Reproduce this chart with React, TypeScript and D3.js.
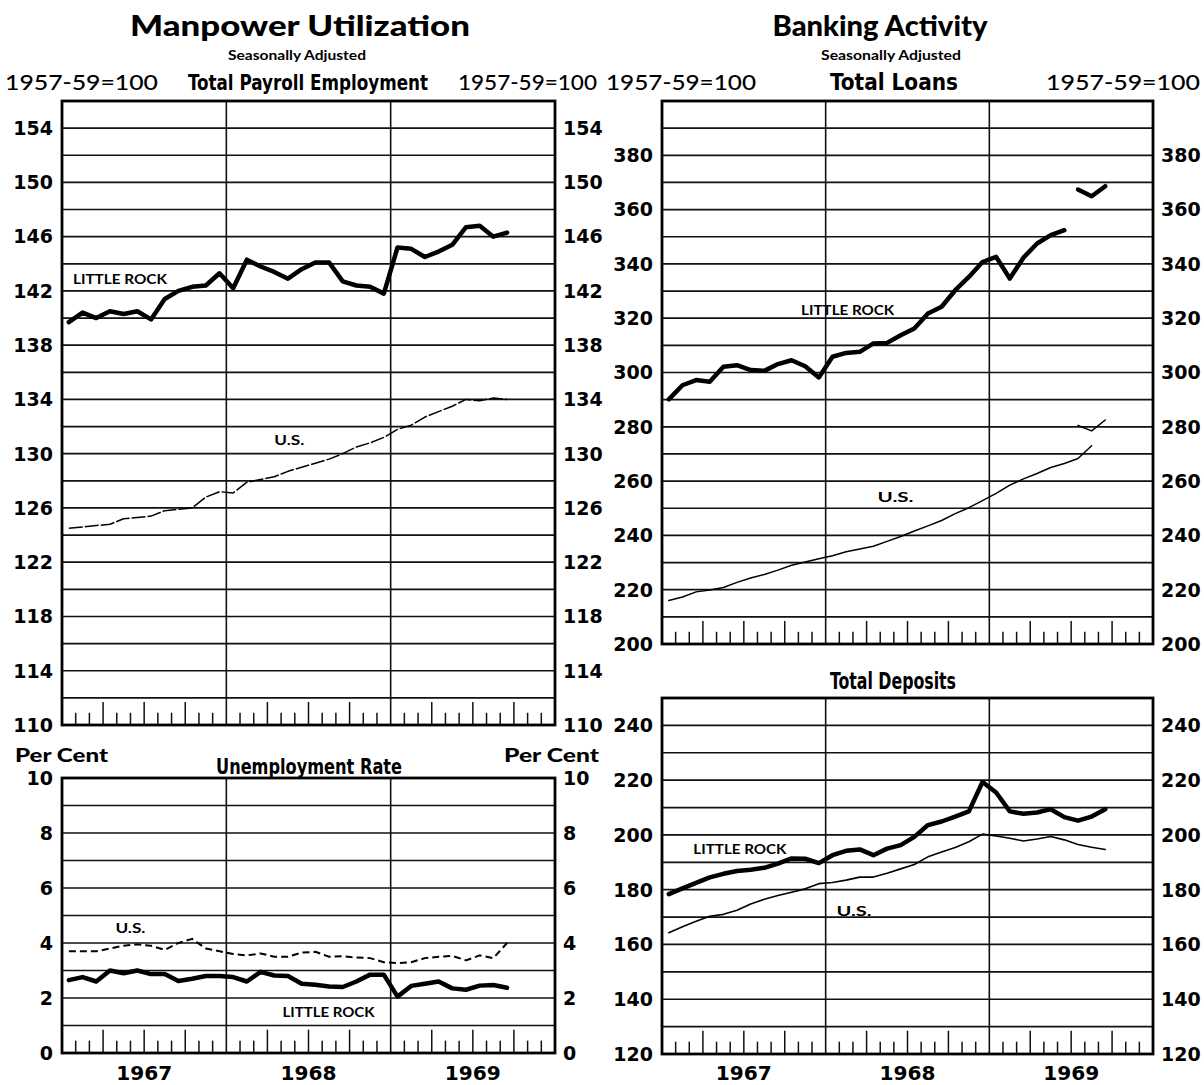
import React from "react";
import * as d3 from "d3";

const yearLabels = ["1967", "1968", "1969"];
const monthsShown = 36;

const payrollLittleRock = [139.7, 140.4, 140.0, 140.5, 140.3, 140.5, 139.9, 141.4, 142.0, 142.3, 142.4, 143.3, 142.2, 144.3, 143.8, 143.4, 142.9, 143.6, 144.1, 144.1, 142.7, 142.4, 142.3, 141.8, 145.2, 145.1, 144.5, 144.9, 145.4, 146.7, 146.8, 146.0, 146.3];
const payrollUS = [124.5, 124.6, 124.7, 124.8, 125.2, 125.3, 125.4, 125.8, 125.9, 126.0, 126.8, 127.2, 127.1, 127.9, 128.1, 128.3, 128.7, 129.0, 129.3, 129.6, 130.0, 130.5, 130.8, 131.2, 131.8, 132.1, 132.7, 133.1, 133.5, 134.0, 133.9, 134.1, 134.0];
const payrollTicks = [110, 114, 118, 122, 126, 130, 134, 138, 142, 146, 150, 154];

const unemploymentLittleRock = [2.65, 2.76, 2.6, 3.0, 2.9, 3.0, 2.87, 2.87, 2.62, 2.7, 2.8, 2.8, 2.76, 2.6, 2.95, 2.82, 2.8, 2.52, 2.48, 2.42, 2.4, 2.6, 2.85, 2.85, 2.05, 2.44, 2.52, 2.6, 2.35, 2.3, 2.45, 2.47, 2.37];
const unemploymentUS = [3.7, 3.7, 3.7, 3.8, 3.9, 3.95, 3.9, 3.75, 4.0, 4.15, 3.8, 3.7, 3.6, 3.55, 3.62, 3.5, 3.5, 3.65, 3.68, 3.5, 3.52, 3.47, 3.45, 3.3, 3.27, 3.3, 3.45, 3.5, 3.53, 3.37, 3.55, 3.45, 4.0];
const unemploymentTicks = [0, 2, 4, 6, 8, 10];

const loansLittleRock = [290.1, 295.3, 297.2, 296.6, 302.1, 302.7, 300.9, 300.6, 303.1, 304.5, 302.3, 298.2, 305.8, 307.2, 307.6, 310.7, 310.9, 313.7, 316.2, 321.7, 324.2, 330.3, 335.2, 340.7, 342.6, 334.6, 342.3, 347.5, 350.6, 352.4];
const loansLittleRockRevised = [367.4, 364.9, 368.6];
const loansUS = [216.0, 217.3, 219.2, 219.9, 220.8, 222.7, 224.3, 225.6, 227.2, 229.0, 230.2, 231.4, 232.5, 234.0, 235.0, 236.0, 237.8, 239.6, 241.6, 243.5, 245.5, 248.0, 250.2, 252.8, 255.5, 258.5, 260.8, 262.8, 265.0, 266.5, 268.3, 273.0];
const loansUSRevised = [280.5, 278.5, 282.5];
const loansTicks = [200, 220, 240, 260, 280, 300, 320, 340, 360, 380];

const depositsLittleRock = [178.4, 180.5, 182.5, 184.5, 185.8, 186.8, 187.3, 188, 189.5, 191.4, 191.3, 189.7, 192.6, 194.2, 194.7, 192.6, 195, 196.3, 199.3, 203.6, 204.9, 206.7, 208.6, 219.3, 215.5, 208.6, 207.7, 208.2, 209.4, 206.5, 205.2, 206.7, 209.4];
const depositsUS = [164.3, 166.5, 168.5, 170.3, 171, 172.5, 174.8, 176.5, 177.9, 179.1, 180.3, 182.2, 182.6, 183.5, 184.6, 184.6, 186, 187.6, 189.2, 192, 193.8, 195.4, 197.5, 200.3, 199.6, 198.8, 197.8, 198.5, 199.4, 198.2, 196.5, 195.5, 194.7];
const depositsTicks = [120, 140, 160, 180, 200, 220, 240];

const HEAD = "Lato, 'Open Sans', 'DejaVu Sans', sans-serif";
const NUM = "'DejaVu Sans', Lato, sans-serif";
const COND = "'Liberation Sans Narrow', 'DejaVu Sans Condensed', 'DejaVu Sans', sans-serif";

type Series = { values: number[]; start: number; width: number; dash?: string };
type Note = { text: string; month: number; value: number; width: number };

function Panel(props: {
  x0: number; x1: number; y0: number; y1: number;
  min: number; max: number; step: number; labels: number[];
  series: Series[]; notes: Note[]; years?: boolean;
}) {
  const { x0, x1, y0, y1, min, max, step, labels, series, notes, years } = props;
  const x = d3.scaleLinear().domain([0, monthsShown]).range([x0, x1]);
  const y = d3.scaleLinear().domain([min, max]).range([y1, y0]);
  const grid = d3.range(min + step, max - step / 2, step);
  const monthMarks = d3.range(1, monthsShown).filter((m) => m % 12 !== 0);
  const bandH = y(min) - y(min + step);
  return (
    <g>
      {grid.map((v) => (
        <line key={"g" + v} x1={x0} x2={x1} y1={y(v)} y2={y(v)} stroke="#111" strokeWidth={1.7} />
      ))}
      {monthMarks.map((m) => (
        <line key={"t" + m} x1={x(m)} x2={x(m)} y1={y(min)} y2={y(min) - (m % 3 === 0 ? 0.85 : 0.45) * bandH} stroke="#111" strokeWidth={1.5} />
      ))}
      {[12, 24].map((m) => (
        <line key={"y" + m} x1={x(m)} x2={x(m)} y1={y0} y2={y1} stroke="#111" strokeWidth={1.6} />
      ))}
      <rect x={x0} y={y0} width={x1 - x0} height={y1 - y0} fill="none" stroke="#000" strokeWidth={2.8} />
      {labels.map((v) => (
        <g key={"l" + v} fontFamily={NUM} fontWeight={700} fontSize={19} fill="#000">
          <text x={x0 - 9} y={y(v)} dy="0.36em" textAnchor="end">{v}</text>
          <text x={x1 + 8} y={y(v)} dy="0.36em" textAnchor="start">{v}</text>
        </g>
      ))}
      {series.map((s, k) => {
        const line = d3.line<number>().x((_, i) => x(s.start + i + 0.5)).y((d) => y(d));
        return (
          <path key={"s" + k} d={line(s.values) || ""} fill="none" stroke="#000" strokeWidth={s.width}
            strokeDasharray={s.dash} strokeLinejoin="round" strokeLinecap={s.dash ? "butt" : "round"} />
        );
      })}
      {notes.map((n, k) => (
        <text key={"n" + k} x={x(n.month)} y={y(n.value)} dy="0.36em" fontFamily={HEAD} fontWeight={700}
          fontSize={14} textLength={n.width} lengthAdjust="spacingAndGlyphs">{n.text}</text>
      ))}
      {years && yearLabels.map((t, i) => (
        <text key={t} x={x(i * 12 + 6)} y={1080} textAnchor="middle" fontFamily={NUM} fontWeight={700} fontSize={20}
          textLength={56} lengthAdjust="spacingAndGlyphs">{t}</text>
      ))}
    </g>
  );
}

function T(p: { x: number; y: number; w: number; size: number; family: string; weight?: number; anchor?: string; children: string }) {
  return (
    <text x={p.x} y={p.y} fontSize={p.size} fontFamily={p.family} fontWeight={p.weight ?? 700}
      textAnchor={p.anchor ?? "middle"} textLength={p.w} lengthAdjust="spacingAndGlyphs">{p.children}</text>
  );
}

export default function App() {
  const L = { x0: 62, x1: 555 };
  const R = { x0: 662, x1: 1153 };
  return (
    <svg width={1204} height={1085} style={{ position: "absolute", left: 0, top: 0, background: "#fff" }}>
      <rect width={1204} height={1085} fill="#fff" />
      <T x={300} y={36} w={340} size={28} family={HEAD} weight={900}>Manpower Utilization</T>
      <T x={297} y={60} w={138} size={13} family={HEAD}>Seasonally Adjusted</T>
      <T x={5} y={90} w={153} size={21} family={HEAD} weight={500} anchor="start">1957-59=100</T>
      <T x={308} y={90} w={240} size={21} family={COND}>Total Payroll Employment</T>
      <T x={458} y={90} w={139} size={21} family={HEAD} weight={500} anchor="start">1957-59=100</T>
      <T x={15} y={762} w={93} size={19} family={HEAD} weight={900} anchor="start">Per Cent</T>
      <T x={309} y={774} w={186} size={22} family={COND}>Unemployment Rate</T>
      <T x={504} y={762} w={95} size={19} family={HEAD} weight={900} anchor="start">Per Cent</T>

      <T x={880} y={36} w={215} size={28} family={HEAD} weight={900}>Banking Activity</T>
      <T x={891} y={60} w={140} size={13} family={HEAD}>Seasonally Adjusted</T>
      <T x={606} y={90} w={150} size={21} family={HEAD} weight={500} anchor="start">1957-59=100</T>
      <T x={894} y={90} w={128} size={23} family={COND}>Total Loans</T>
      <T x={1046} y={90} w={154} size={21} family={HEAD} weight={500} anchor="start">1957-59=100</T>
      <T x={893} y={689} w={126} size={23} family={COND}>Total Deposits</T>

      <Panel {...L} y0={101} y1={725} min={110} max={156} step={2} labels={payrollTicks}
        series={[
          { values: payrollUS, start: 0, width: 1.5, dash: "14,2" },
          { values: payrollLittleRock, start: 0, width: 4.5 },
        ]}
        notes={[
          { text: "LITTLE ROCK", month: 0.8, value: 142.9, width: 94 },
          { text: "U.S.", month: 15.5, value: 131.0, width: 30 },
        ]} />
      <Panel {...L} y0={778} y1={1053} min={0} max={10} step={1} labels={unemploymentTicks} years
        series={[
          { values: unemploymentUS, start: 0, width: 2, dash: "7,4" },
          { values: unemploymentLittleRock, start: 0, width: 4.5 },
        ]}
        notes={[
          { text: "U.S.", month: 3.9, value: 4.55, width: 30 },
          { text: "LITTLE ROCK", month: 16.1, value: 1.49, width: 92 },
        ]} />
      <Panel {...R} y0={101} y1={644} min={200} max={400} step={10} labels={loansTicks}
        series={[
          { values: loansUS, start: 0, width: 1.5 },
          { values: loansUSRevised, start: 30, width: 1.5 },
          { values: loansLittleRock, start: 0, width: 4.5 },
          { values: loansLittleRockRevised, start: 30, width: 4.5 },
        ]}
        notes={[
          { text: "LITTLE ROCK", month: 10.2, value: 323, width: 93 },
          { text: "U.S.", month: 15.8, value: 254, width: 36 },
        ]} />
      <Panel {...R} y0={698} y1={1054} min={120} max={250} step={10} labels={depositsTicks} years
        series={[
          { values: depositsUS, start: 0, width: 1.6 },
          { values: depositsLittleRock, start: 0, width: 4.5 },
        ]}
        notes={[
          { text: "LITTLE ROCK", month: 2.3, value: 194.8, width: 93 },
          { text: "U.S.", month: 12.8, value: 172.2, width: 35 },
        ]} />
    </svg>
  );
}
